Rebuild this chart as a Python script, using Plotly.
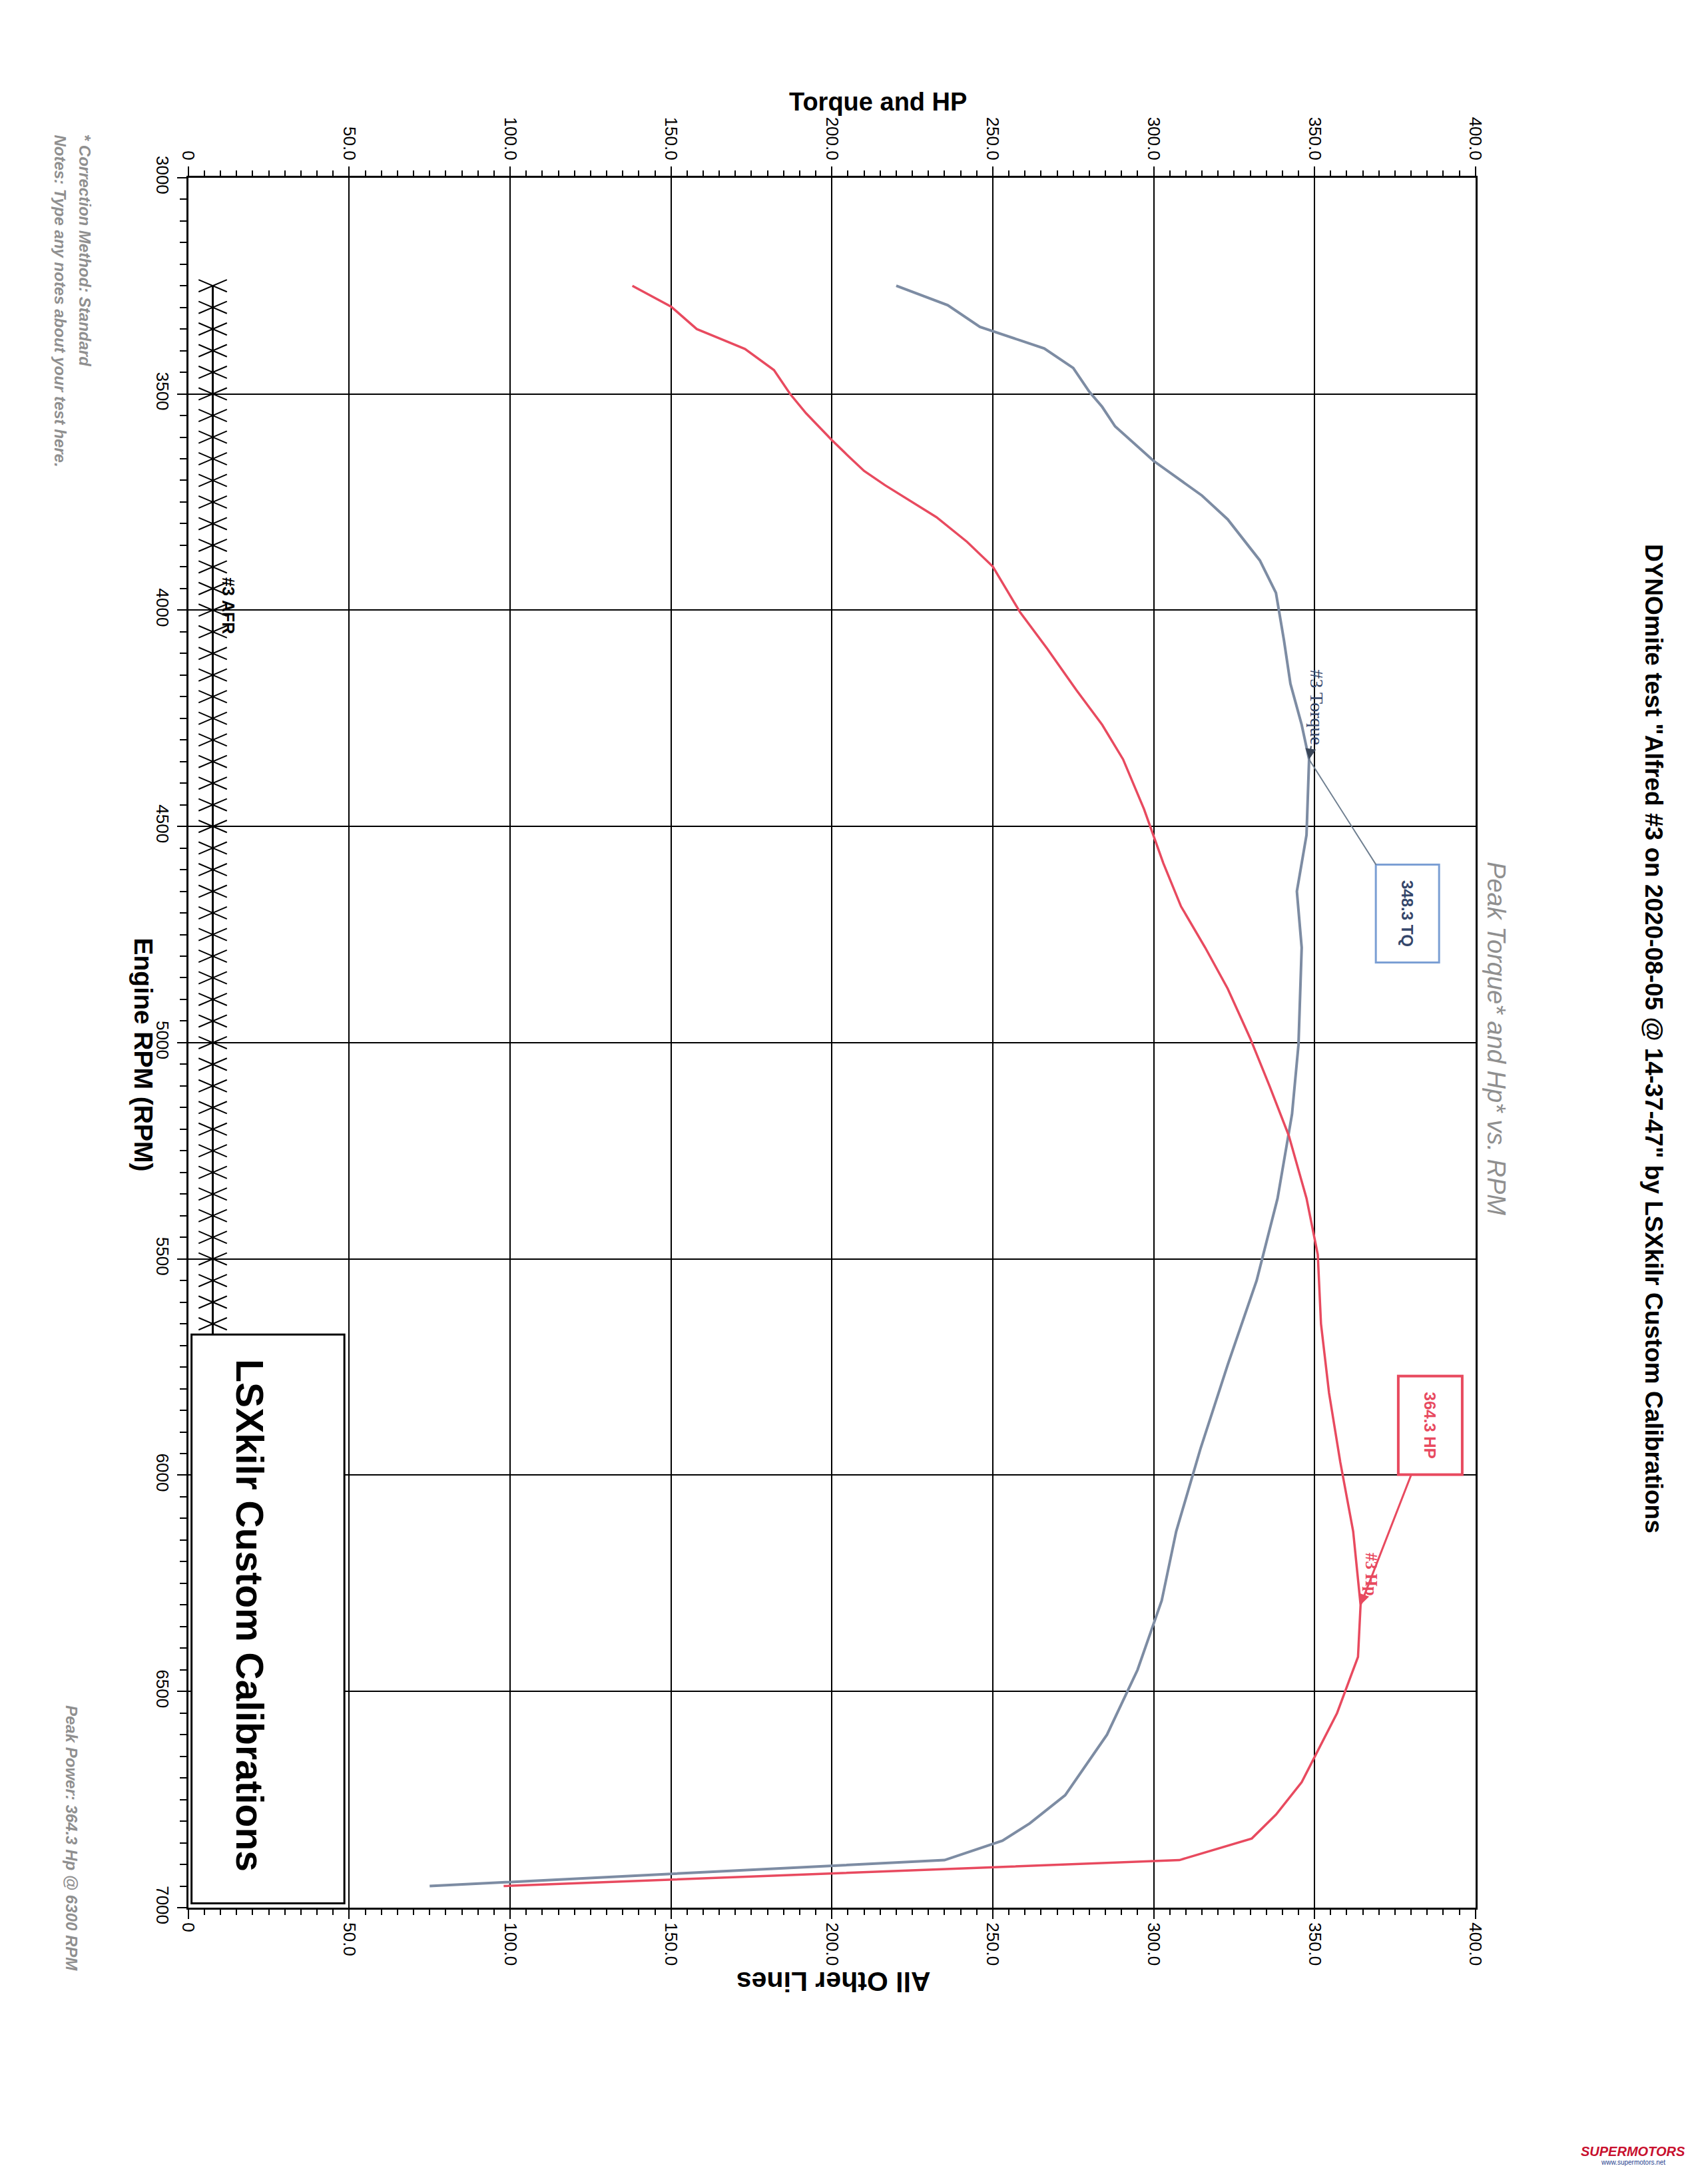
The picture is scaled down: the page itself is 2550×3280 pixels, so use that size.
import plotly.graph_objects as go

# ---------------- data ----------------
rpm_tq = [3250, 3295, 3345, 3395, 3440, 3495, 3530, 3575, 3655, 3735, 3790, 3885,
          3960, 4070, 4170, 4265, 4345, 4520, 4650, 4780, 5005, 5165, 5360, 5550,
          5745, 5940, 6130, 6290, 6450, 6600, 6740, 6805, 6845, 6890, 6950]
torque = [220.0, 236.0, 246.0, 266.0, 275.0, 280.0, 284.0, 288.0, 300.0, 315.0, 323.0, 333.0,
          338.0, 340.5, 342.5, 346.0, 348.3, 347.5, 344.5, 346.0, 345.0, 343.0, 338.5, 332.0,
          323.0, 314.5, 307.0, 302.5, 295.0, 285.5, 272.5, 261.5, 253.0, 235.0, 75.0]

rpm_hp = [3250, 3298, 3350, 3396, 3445, 3500, 3545, 3607, 3643, 3678, 3711, 3785,
          3842, 3899, 4005, 4090, 4185, 4265, 4345, 4460, 4585, 4685, 4780, 4875,
          4990, 5100, 5215, 5360, 5490, 5650, 5810, 5970, 6130, 6300, 6420, 6550,
          6710, 6785, 6840, 6890, 6950]
hp = [138.0, 150.0, 158.0, 173.0, 182.0, 187.0, 192.0, 200.0, 205.0, 210.0, 216.5, 232.5,
      242.0, 250.0, 258.5, 267.0, 276.0, 284.0, 290.5, 297.0, 303.0, 308.5, 316.0, 323.0,
      330.0, 336.0, 342.0, 347.5, 351.0, 352.0, 354.5, 358.0, 362.0, 364.3, 363.5, 357.0,
      346.0, 338.0, 330.5, 308.0, 98.0]

afr_rpm = [3250, 3300, 3350, 3400, 3450, 3500, 3550, 3600, 3650, 3700, 3750, 3800,
           3850, 3900, 3950, 4000, 4050, 4100, 4150, 4200, 4250, 4300, 4350, 4400,
           4450, 4500, 4550, 4600, 4650, 4700, 4750, 4800, 4850, 4900, 4950, 5000,
           5050, 5100, 5150, 5200, 5250, 5300, 5350, 5400, 5450, 5500, 5550, 5600,
           5650, 5700]
afr = [7.6, 7.6, 7.6, 7.6, 7.6, 7.6, 7.6, 7.6, 7.6, 7.6, 7.6, 7.6,
       7.6, 7.6, 7.6, 7.6, 7.6, 7.6, 7.6, 7.6, 7.6, 7.6, 7.6, 7.6,
       7.6, 7.6, 7.6, 7.6, 7.6, 7.6, 7.6, 7.6, 7.6, 7.6, 7.6, 7.6,
       7.6, 7.6, 7.6, 7.6, 7.6, 7.6, 7.6, 7.6, 7.6, 7.6, 7.6, 7.6,
       7.6, 7.6]

value_ticks = [0, 50, 100, 150, 200, 250, 300, 350, 400]
value_tick_labels = ["0", "50.0", "100.0", "150.0", "200.0", "250.0", "300.0", "350.0", "400.0"]
rpm_ticks = [3000, 3500, 4000, 4500, 5000, 5500, 6000, 6500, 7000]
rpm_tick_labels = ["3000", "3500", "4000", "4500", "5000", "5500", "6000", "6500", "7000"]

peak_tq_rpm, peak_tq = 4345, 348.3
peak_hp_rpm, peak_hp = 6300, 364.3

# ---------------- styling ----------------
W, H = 2550, 3280
PX0, PX1 = 272, 2228      # plot area, pixels (left/right)
PY0, PY1 = 238, 2883      # plot area, pixels (top/bottom)

NARROW = "Liberation Sans Narrow, Arial Narrow, Liberation Sans, Arial, sans-serif"
SANS = "Liberation Sans, Arial, Helvetica, sans-serif"
SERIF = "Liberation Serif, Times New Roman, serif"
TQ_COLOR = "#7d8ca3"
HP_COLOR = "#e84a5f"
GRAY_TXT = "#8f8f8f"


def px(xp):
    return xp / W


def py(yp):
    return 1 - yp / H


fig = go.Figure()

fig.add_trace(go.Scatter(x=torque, y=rpm_tq, xaxis="x2", yaxis="y", mode="lines",
                         line=dict(color=TQ_COLOR, width=4), name="#3 Torque",
                         showlegend=False))
fig.add_trace(go.Scatter(x=hp, y=rpm_hp, xaxis="x2", yaxis="y", mode="lines",
                         line=dict(color=HP_COLOR, width=3.5), name="#3 Hp",
                         showlegend=False))

# AFR line with wide "X" markers
fig.add_trace(go.Scatter(x=afr, y=afr_rpm, xaxis="x", yaxis="y", mode="lines",
                         line=dict(color="black", width=3), name="#3 AFR",
                         showlegend=False))
DX, DR = 4.4, 14
mx, my = [], []
for r, v in zip(afr_rpm, afr):
    mx += [v - DX, v + DX, None, v - DX, v + DX, None]
    my += [r - DR, r + DR, None, r + DR, r - DR, None]
fig.add_trace(go.Scatter(x=mx, y=my, xaxis="x", yaxis="y", mode="lines",
                         line=dict(color="black", width=2), showlegend=False,
                         hoverinfo="skip"))

# logo box covering the lower-left corner of the grid
fig.add_shape(type="rect", xref="x", yref="y", x0=1, x1=48.5, y0=5675, y1=6990,
              fillcolor="white", line=dict(color="black", width=3), layer="above")

axis_font = dict(family=SANS, size=26, color="black")

fig.update_layout(
    width=W, height=H, autosize=False,
    margin=dict(l=0, r=0, t=0, b=0),
    paper_bgcolor="white", plot_bgcolor="white",
    showlegend=False,
    xaxis=dict(
        domain=[px(PX0), px(PX1)], range=[0, 400], anchor="y", side="bottom",
        tickmode="array", tickvals=value_ticks, ticktext=value_tick_labels,
        tickangle=90, tickfont=axis_font, ticks="outside", ticklen=14,
        tickwidth=2, tickcolor="black",
        minor=dict(tickmode="linear", tick0=0, dtick=5, ticks="outside",
                   ticklen=8, tickwidth=2, tickcolor="black", showgrid=False),
        showline=True, linecolor="black", linewidth=3, showgrid=False,
        zeroline=False,
    ),
    xaxis2=dict(
        range=[0, 400], overlaying="x", anchor="y", side="top",
        tickmode="array", tickvals=value_ticks, ticktext=value_tick_labels,
        tickangle=90, tickfont=axis_font, ticks="outside", ticklen=14,
        tickwidth=2, tickcolor="black",
        minor=dict(tickmode="linear", tick0=0, dtick=5, ticks="outside",
                   ticklen=8, tickwidth=2, tickcolor="black", showgrid=False),
        showline=True, linecolor="black", linewidth=3,
        showgrid=True, gridcolor="black", gridwidth=2, zeroline=False,
    ),
    yaxis=dict(
        domain=[py(PY1), py(PY0)], range=[7000, 3000], anchor="x", side="left",
        tickmode="array", tickvals=rpm_ticks, ticktext=rpm_tick_labels,
        tickangle=90, tickfont=axis_font, ticks="outside", ticklen=14,
        tickwidth=2, tickcolor="black",
        minor=dict(tickmode="linear", tick0=3000, dtick=50, ticks="outside",
                   ticklen=10, tickwidth=2, tickcolor="black", showgrid=False),
        showline=True, linecolor="black", linewidth=3, mirror=True,
        showgrid=True, gridcolor="black", gridwidth=2, zeroline=False,
    ),
)

ann = []
# main title (right side, rotated)
ann.append(dict(xref="paper", yref="paper", x=px(2499), y=py(1554),
                text='DYNOmite test "Alfred #3 on 2020-08-05 @ 14-37-47" by LSXkilr Custom Calibrations',
                textangle=90, showarrow=False, xanchor="center", yanchor="middle",
                font=dict(family=NARROW, size=37, color="black", weight="bold")))
ann.append(dict(xref="paper", yref="paper", x=px(2260), y=py(1554),
                text="Peak Torque* and Hp* vs. RPM",
                textangle=90, showarrow=False, xanchor="center", yanchor="middle",
                font=dict(family=SANS, size=38, color=GRAY_TXT, style="italic")))
# axis titles
ann.append(dict(xref="paper", yref="paper", x=px(1320), y=py(122),
                text="Torque and HP", showarrow=False, xanchor="center", yanchor="middle",
                font=dict(family=NARROW, size=38, color="black", weight="bold")))
ann.append(dict(xref="paper", yref="paper", x=px(1252), y=py(2996),
                text="All Other Lines", textangle=180, showarrow=False,
                xanchor="center", yanchor="middle",
                font=dict(family=NARROW, size=41, color="black", weight="bold")))
ann.append(dict(xref="paper", yref="paper", x=px(204), y=py(1579),
                text="Engine RPM (RPM)", textangle=90, showarrow=False,
                xanchor="center", yanchor="middle",
                font=dict(family=NARROW, size=39, color="black", weight="bold")))
# notes
ann.append(dict(xref="paper", yref="paper", x=px(115), y=py(170),
                text="* Correction Method: Standard", textangle=90, showarrow=False,
                xanchor="center", yanchor="top",
                font=dict(family=SANS, size=24, color=GRAY_TXT, style="italic", weight="bold")))
ann.append(dict(xref="paper", yref="paper", x=px(77), y=py(170),
                text="Notes: Type any notes about your test here.", textangle=90,
                showarrow=False, xanchor="center", yanchor="top",
                font=dict(family=SANS, size=24, color=GRAY_TXT, style="italic", weight="bold")))
ann.append(dict(xref="paper", yref="paper", x=px(94), y=py(2777),
                text="Peak Power: 364.3 Hp @ 6300 RPM", textangle=90,
                showarrow=False, xanchor="center", yanchor="middle",
                font=dict(family=SANS, size=24, color=GRAY_TXT, style="italic", weight="bold")))
# logo text
ann.append(dict(xref="x", yref="y", x=19, y=6324,
                text="LSXkilr Custom Calibrations", textangle=90, showarrow=False,
                xanchor="center", yanchor="middle",
                font=dict(family=SANS, size=57, color="black", weight="bold")))
# AFR label
ann.append(dict(xref="x", yref="y", x=afr[0] + 1.5, y=3990,
                text="#3 AFR", textangle=90, showarrow=False,
                xanchor="left", yanchor="middle",
                font=dict(family=NARROW, size=25, color="black", weight="bold")))
# torque peak callouts
ann.append(dict(xref="x2", yref="y", x=peak_tq, y=peak_tq_rpm,
                axref="x2", ayref="y", ax=378.8, ay=4702,
                text="348.3 TQ", textangle=90, showarrow=True, arrowhead=0,
                arrowwidth=2, arrowcolor="#6f7f90",
                width=140, height=88, borderpad=2, bordercolor="#7b9fd4",
                borderwidth=3, bgcolor="white",
                font=dict(family=SANS, size=24, color="#34466a", weight="bold")))
ann.append(dict(xref="x2", yref="y", x=peak_tq, y=peak_tq_rpm,
                ax=12, ay=-78, text="#3 Torque", textangle=90, showarrow=True,
                arrowhead=2, arrowsize=1.6, arrowwidth=2, arrowcolor="#3a4658",
                font=dict(family=SERIF, size=28, color="#34466a")))
# hp peak callouts
ann.append(dict(xref="x2", yref="y", x=peak_hp, y=peak_hp_rpm,
                axref="x2", ayref="y", ax=386.0, ay=5885,
                text="364.3 HP", textangle=90, showarrow=True, arrowhead=0,
                arrowwidth=3, arrowcolor=HP_COLOR,
                width=140, height=88, borderpad=2, bordercolor=HP_COLOR,
                borderwidth=4, bgcolor="white",
                font=dict(family=SANS, size=24, color=HP_COLOR, weight="bold")))
ann.append(dict(xref="x2", yref="y", x=peak_hp, y=peak_hp_rpm,
                ax=16, ay=-46, text="#3 Hp", textangle=90, showarrow=True,
                arrowhead=2, arrowsize=1.6, arrowwidth=2, arrowcolor=HP_COLOR,
                font=dict(family=SERIF, size=25, color=HP_COLOR, weight="bold")))
# scan watermark
ann.append(dict(xref="paper", yref="paper", x=px(2468), y=py(3256),
                text="<b><i>SUPERMOTORS</i></b>", showarrow=False,
                xanchor="center", yanchor="middle",
                font=dict(family=SANS, size=20, color="#c8102e")))
ann.append(dict(xref="paper", yref="paper", x=px(2468), y=py(3272),
                text="www.supermotors.net", showarrow=False,
                xanchor="center", yanchor="middle",
                font=dict(family=SANS, size=10, color="#1f3f8f")))

fig.update_layout(annotations=ann)

fig.write_html("out.html")
